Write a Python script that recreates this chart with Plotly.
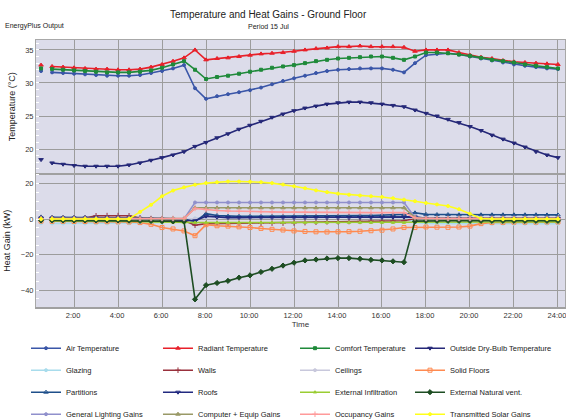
import plotly.graph_objects as go
from plotly.subplots import make_subplots

# ---------------- data ----------------
TIME = [0.5, 1.0, 1.5, 2.0, 2.5, 3.0, 3.5, 4.0, 4.5, 5.0, 5.5, 6.0, 6.5, 7.0,
        7.5, 8.0, 8.5, 9.0, 9.5, 10.0, 10.5, 11.0, 11.5, 12.0,
        12.5, 13.0, 13.5, 14.0, 14.5, 15.0, 15.5, 16.0, 16.5, 17.0,
        17.5, 18.0, 18.5, 19.0, 19.5, 20.0, 20.5, 21.0, 21.5, 22.0, 22.5, 23.0, 23.5, 24.0]

TICK_VALS = [2, 4, 6, 8, 10, 12, 14, 16, 18, 20, 22, 24]
TICK_TEXT = ["2:00", "4:00", "6:00", "8:00", "10:00", "12:00", "14:00", "16:00",
             "18:00", "20:00", "22:00", "24:00"]

AIR_TEMP = [31.8, 31.6, 31.5, 31.4, 31.3, 31.2, 31.1, 31.1, 31.1, 31.2, 31.5, 31.8, 32.2, 32.7,
            29.2, 27.6, 28.0, 28.3, 28.6, 28.9, 29.3, 29.8, 30.3, 30.7,
            31.1, 31.5, 31.8, 32.0, 32.1, 32.2, 32.2, 32.2, 32.0, 31.6,
            33.0, 34.2, 34.4, 34.5, 34.3, 34.0, 33.7, 33.4, 33.1, 32.8, 32.6, 32.4, 32.2, 32.1]
RADIANT_TEMP = [32.7, 32.5, 32.4, 32.3, 32.2, 32.1, 32.1, 32.0, 32.0, 32.1, 32.4, 32.8, 33.3, 33.8,
                35.0, 33.5, 33.7, 33.8, 34.0, 34.2, 34.4, 34.5, 34.6, 34.8,
                35.0, 35.2, 35.3, 35.5, 35.5, 35.6, 35.5, 35.5, 35.5, 35.4,
                34.8, 35.0, 35.0, 35.0, 34.6, 34.2, 33.9, 33.7, 33.4, 33.2, 33.1, 33.0, 32.9, 32.8]
COMFORT_TEMP = [32.2, 32.1, 32.0, 31.9, 31.8, 31.7, 31.6, 31.6, 31.6, 31.7, 31.9, 32.3, 32.8, 33.3,
                32.0, 30.6, 30.9, 31.1, 31.4, 31.7, 32.0, 32.3, 32.5, 32.7,
                33.0, 33.3, 33.5, 33.7, 33.8, 33.9, 34.0, 34.0, 33.8, 33.5,
                34.0, 34.6, 34.6, 34.5, 34.3, 34.1, 33.8, 33.5, 33.3, 33.1, 32.8, 32.6, 32.4, 32.2]
OUTSIDE_TEMP = [18.4, 17.9, 17.7, 17.5, 17.4, 17.4, 17.4, 17.4, 17.6, 17.9, 18.3, 18.7, 19.1, 19.6,
                20.4, 21.0, 21.7, 22.3, 23.0, 23.6, 24.2, 24.8, 25.3, 25.8,
                26.2, 26.5, 26.8, 27.0, 27.1, 27.1, 27.0, 26.8, 26.6, 26.4,
                25.9, 25.4, 25.0, 24.5, 24.0, 23.4, 22.8, 22.1, 21.5, 20.9, 20.3, 19.6, 19.1, 18.7]

GLAZING = [-2.4, -2.5, -2.5, -2.5, -2.5, -2.5, -2.5, -2.5, -2.5, -2.4, -2.2, -2.0, -1.6, -1.2,
           0.3, 1.0, 1.2, 1.3, 1.4, 1.5, 1.5, 1.5, 1.5, 1.5,
           1.5, 1.5, 1.5, 1.4, 1.4, 1.3, 1.3, 1.2, 1.1, 1.0,
           -2.0, -2.5, -2.6, -2.6, -2.7, -2.7, -2.7, -2.7, -2.7, -2.7, -2.7, -2.7, -2.7, -2.7]
WALLS = [0.5, 0.4, 0.4, 0.5, 0.6, 1.8, 1.9, 1.9, 1.8, 0.5, 0.0, -0.4, -0.6, -0.8,
         -3.5, -2.6, -2.5, -2.4, -2.4, -2.4, -2.4, -2.3, -2.3, -2.2,
         -2.0, -1.8, -1.6, -1.5, -1.4, -1.3, -1.2, -1.2, -1.1, -1.0,
         0.3, 0.6, 0.6, 0.5, 0.5, 0.5, 0.5, 0.5, 0.5, 0.5, 0.5, 0.5, 0.5, 0.5]
CEILINGS = [0.3, 0.3, 0.3, 0.3, 0.3, 0.3, 0.3, 0.3, 0.3, 0.2, 0.1, 0.0, -0.2, -0.3,
            0.2, 0.8, 0.9, 1.0, 1.0, 1.0, 1.0, 1.0, 1.0, 1.0,
            1.0, 1.0, 1.0, 1.0, 1.0, 1.0, 1.0, 1.0, 1.0, 0.9,
            0.5, 0.4, 0.4, 0.4, 0.4, 0.4, 0.4, 0.4, 0.4, 0.4, 0.4, 0.4, 0.4, 0.4]
SOLID_FLOORS = [-1.2, -1.3, -1.3, -1.4, -1.4, -1.5, -1.5, -1.6, -1.7, -2.0, -3.0, -4.8, -5.6, -6.7,
                -9.4, -3.2, -3.8, -4.0, -4.4, -4.8, -5.3, -5.8, -6.2, -6.7,
                -7.0, -7.2, -7.3, -7.2, -7.1, -6.9, -6.6, -6.3, -5.6, -4.8,
                -4.8, -4.5, -4.6, -4.7, -4.5, -4.0, -2.6, -2.0, -1.9, -1.8, -1.8, -1.8, -1.7, -1.7]
PARTITIONS = [1.2, 1.0, 1.0, 1.0, 1.0, 1.0, 1.0, 1.0, 1.0, 0.8, 0.6, 0.4, 0.2, 0.0,
              -1.5, 3.0, 2.0, 1.6, 1.5, 1.5, 1.5, 1.5, 1.5, 1.5,
              1.6, 1.6, 1.7, 1.7, 1.8, 1.9, 2.0, 2.2, 2.5, 2.6,
              3.5, 2.6, 2.5, 2.5, 2.4, 2.4, 2.4, 2.4, 2.4, 2.4, 2.4, 2.4, 2.3, 2.3]
ROOFS = [0.6, 0.5, 0.5, 0.5, 0.5, 0.5, 0.5, 0.5, 0.5, 0.3, 0.1, -0.1, -0.3, -0.5,
         -1.0, 1.6, 1.0, 0.8, 0.8, 0.8, 0.8, 0.8, 0.8, 0.8,
         0.8, 0.8, 0.8, 0.8, 0.8, 0.9, 0.9, 0.9, 1.0, 1.0,
         1.2, 0.4, 0.3, 0.3, 0.3, 0.3, 0.3, 0.3, 0.3, 0.3, 0.3, 0.3, 0.3, 0.3]
EXT_INFILTRATION = [-1.0, -1.1, -1.1, -1.1, -1.1, -1.1, -1.1, -1.1, -1.2, -1.4, -1.6, -1.8, -1.9, -2.0,
                    -2.0, -2.0, -2.0, -2.0, -2.0, -2.0, -2.0, -2.0, -2.0, -2.0,
                    -2.0, -2.0, -2.0, -2.0, -2.0, -2.0, -2.0, -2.0, -2.0, -2.0,
                    -1.8, -1.8, -1.8, -1.7, -1.7, -1.7, -1.7, -1.7, -1.7, -1.6, -1.6, -1.6, -1.6, -1.6]
EXT_NAT_VENT = [-0.8, -0.8, -0.8, -0.8, -0.8, -0.8, -0.8, -0.8, -0.9, -1.0, -1.1, -1.2, -1.3, -1.4,
                -45.2, -37.2, -36.0, -34.8, -33.0, -31.7, -29.8, -28.0, -26.2, -24.6,
                -23.3, -22.8, -22.2, -22.0, -22.0, -22.4, -23.0, -23.3, -23.8, -24.3,
                -1.2, -1.0, -1.0, -1.0, -1.0, -1.0, -1.0, -1.0, -1.0, -1.0, -1.0, -1.0, -1.0, -1.0]
GEN_LIGHTING = [0.0, 0.0, 0.0, 0.0, 0.0, 0.0, 0.0, 0.0, 0.0, 0.0, 0.0, 0.0, 0.0, 0.0,
                9.3, 9.3, 9.3, 9.3, 9.3, 9.3, 9.3, 9.3, 9.3, 9.3,
                9.3, 9.3, 9.3, 9.3, 9.3, 9.3, 9.3, 9.3, 9.3, 9.3,
                0.8, 0.0, 0.0, 0.0, 0.0, 0.0, 0.0, 0.0, 0.0, 0.0, 0.0, 0.0, 0.0, 0.0]
COMPUTER_EQUIP = [0.2, 0.2, 0.2, 0.2, 0.2, 0.2, 0.2, 0.2, 0.2, 0.2, 0.2, 0.2, 0.2, 0.2,
                  6.3, 6.3, 6.3, 6.3, 6.3, 6.3, 6.3, 6.3, 6.3, 6.3,
                  6.3, 6.3, 6.3, 6.3, 6.3, 6.3, 6.3, 6.3, 6.3, 6.3,
                  0.8, 0.2, 0.2, 0.2, 0.2, 0.2, 0.2, 0.2, 0.2, 0.2, 0.2, 0.2, 0.2, 0.2]
OCCUPANCY = [0.3, 0.3, 0.3, 0.3, 0.3, 0.3, 0.3, 0.3, 0.3, 0.3, 0.3, 0.3, 0.3, 0.3,
             6.0, 5.2, 4.8, 4.5, 4.3, 4.2, 4.1, 4.0, 3.9, 3.9,
             3.8, 3.8, 3.7, 3.7, 3.7, 3.6, 3.6, 3.6, 3.6, 3.6,
             0.6, 0.3, 0.3, 0.3, 0.3, 0.3, 0.3, 0.3, 0.3, 0.3, 0.3, 0.3, 0.3, 0.3]
SOLAR = [0.0, 0.0, 0.0, 0.0, 0.0, 0.0, 0.0, 0.0, 0.0, 4.0, 8.0, 12.8, 16.0, 17.8,
         19.3, 20.2, 20.7, 21.1, 21.1, 21.0, 20.7, 20.2, 19.4, 18.4,
         17.3, 16.1, 15.1, 14.3, 13.7, 13.2, 12.8, 12.4, 11.7, 10.9,
         10.0, 9.0, 8.2, 7.3, 5.5, 3.0, 0.3, 0.0, 0.0, 0.0, 0.0, 0.0, 0.0, 0.0]

# (name, values, colour, marker, size, legend column)
TEMP_SERIES = [
    ("Air Temperature", AIR_TEMP, "#3a56a8", "circle", 3, "legend"),
    ("Radiant Temperature", RADIANT_TEMP, "#e8202a", "triangle-up", 4, "legend2"),
    ("Comfort Temperature", COMFORT_TEMP, "#1f8a3a", "square", 3, "legend3"),
    ("Outside Dry-Bulb Temperature", OUTSIDE_TEMP, "#252878", "triangle-down", 4, "legend4"),
]
GAIN_SERIES = [
    ("Glazing", GLAZING, "#a8dcec", "circle", 3, "legend"),
    ("Walls", WALLS, "#99303c", "cross-thin-open", 4, "legend2"),
    ("Ceilings", CEILINGS, "#c8c8dc", "circle", 3, "legend3"),
    ("Solid Floors", SOLID_FLOORS, "#ff8a50", "square-open", 4, "legend4"),
    ("Partitions", PARTITIONS, "#1e4f8a", "triangle-up-open", 4, "legend"),
    ("Roofs", ROOFS, "#222a80", "triangle-down-open", 4, "legend2"),
    ("External Infiltration", EXT_INFILTRATION, "#9acd32", "triangle-up", 3, "legend3"),
    ("External Natural vent.", EXT_NAT_VENT, "#1d4d22", "diamond", 4, "legend4"),
    ("General Lighting Gains", GEN_LIGHTING, "#9090cc", "circle", 3, "legend"),
    ("Computer + Equip Gains", COMPUTER_EQUIP, "#999966", "triangle-up", 4, "legend2"),
    ("Occupancy Gains", OCCUPANCY, "#ff9a9a", "cross-thin-open", 4, "legend3"),
    ("Transmitted Solar Gains", SOLAR, "#ffff1a", "circle", 3, "legend4"),
]

FONT = "Liberation Sans, Arial, sans-serif"


def gapped(vals):
    # lone first sample, then a break before the continuous record
    return [vals[0], None] + list(vals[1:])


X_PLOT = gapped(TIME)

fig = make_subplots(rows=2, cols=1, shared_xaxes=True, vertical_spacing=0.004)

for row, series in ((1, TEMP_SERIES), (2, GAIN_SERIES)):
    for name, vals, color, sym, size, leg in series:
        fig.add_trace(go.Scatter(
            x=X_PLOT, y=gapped(vals), name=name, mode="lines+markers",
            line=dict(color=color, width=1.6), connectgaps=False,
            marker=dict(symbol=sym, size=size, color=color, line=dict(color=color, width=1)),
            legend=leg, legendgroup=name,
        ), row=row, col=1)

GRID = "#9c9c9c"
BG = "#dcdcea"

axis_x = dict(range=[0.27, 24.32], tickvals=TICK_VALS, ticktext=TICK_TEXT,
              showgrid=True, gridcolor=GRID, gridwidth=1, zeroline=False,
              showline=True, linecolor="#a8a8a8", linewidth=1, mirror=True,
              ticks="", ticklabeloverflow="allow",
              tickfont=dict(size=7.5, color="#333333", family=FONT))

fig.update_xaxes(**axis_x)
fig.update_xaxes(showticklabels=False, row=1, col=1)
fig.update_xaxes(showticklabels=True, automargin=False, ticklabelshift=-1,
                 title=dict(text="Time", font=dict(size=8, color="#333333", family=FONT), standoff=2),
                 linecolor="#a0a0a0", linewidth=2, row=2, col=1)

fig.update_yaxes(range=[16.3, 36.5], tickvals=[20, 25, 30, 35], showgrid=True, gridcolor=GRID,
                 zeroline=False, showline=True, linecolor="#a8a8a8", mirror=True, ticks="",
                 tickfont=dict(size=7.5, color="#333333", family=FONT),
                 title=dict(text="Temperature (°C)", font=dict(size=9, color="#222222", family=FONT), standoff=8),
                 minor=dict(dtick=1, tick0=0, ticks="inside", ticklen=3, tickcolor="#ffffff", showgrid=False),
                 domain=[0.5, 1.0], row=1, col=1)
fig.update_yaxes(range=[-49.5, 25], tickvals=[-40, -20, 0, 20], showgrid=True, gridcolor=GRID,
                 zeroline=False, showline=True, linecolor="#a8a8a8", mirror=True, ticks="",
                 tickfont=dict(size=7.5, color="#333333", family=FONT),
                 title=dict(text="Heat Gain (kW)", font=dict(size=9, color="#222222", family=FONT), standoff=8),
                 minor=dict(dtick=5, tick0=0, ticks="inside", ticklen=3, tickcolor="#ffffff", showgrid=False),
                 domain=[0.0, 0.496], row=2, col=1)

legend_style = dict(orientation="v", xanchor="left", y=-0.1, yanchor="top",
                    traceorder="grouped", tracegroupgap=3,
                    font=dict(size=7.5, color="#222222", family=FONT),
                    bgcolor="rgba(0,0,0,0)", itemwidth=30)

fig.update_layout(
    width=566, height=419,
    margin=dict(l=36, r=1, t=40, b=112, autoexpand=False),
    paper_bgcolor="#ffffff", plot_bgcolor=BG,
    font=dict(family=FONT, color="#222222"),
    showlegend=True,
    legend=dict(x=-0.0189, **legend_style),
    legend2=dict(x=0.2306, **legend_style),
    legend3=dict(x=0.4896, **legend_style),
    legend4=dict(x=0.7070, **legend_style),
    annotations=[
        dict(text="Temperature and Heat Gains - Ground Floor", xref="paper", yref="paper",
             x=0.4386, y=1.094, showarrow=False, xanchor="center", yanchor="middle",
             font=dict(size=10, color="#222222", family=FONT)),
        dict(text="Period 15 Jul", xref="paper", yref="paper",
             x=0.4386, y=1.052, showarrow=False, xanchor="center", yanchor="middle",
             font=dict(size=7, color="#222222", family=FONT)),
        dict(text="EnergyPlus Output", xref="paper", yref="paper",
             x=-0.062, y=1.052, showarrow=False, xanchor="left", yanchor="middle",
             font=dict(size=7, color="#222222", family=FONT)),
    ],
)

fig.write_html("out.html", config={"displayModeBar": False},
               post_script="document.body.style.margin='0px';document.body.style.padding='0px';")
